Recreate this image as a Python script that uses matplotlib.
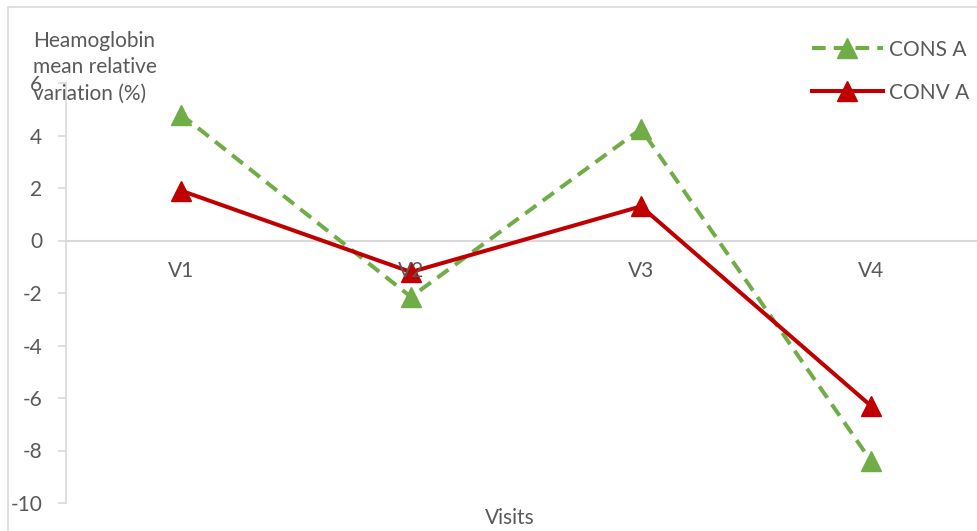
import matplotlib.pyplot as plt
from matplotlib.patches import Rectangle

visits = ["V1", "V2", "V3", "V4"]
cons_a = [4.8, -2.15, 4.25, -8.4]
conv_a = [1.9, -1.2, 1.3, -6.3]
y_ticks = [6, 4, 2, 0, -2, -4, -6, -8, -10]

plt.rcParams['font.family'] = ['Lato', 'DejaVu Sans']
grey_txt = '#595959'
axis_col = '#d9d9d9'
fs = 15

fig = plt.figure(figsize=(9.77, 5.31), dpi=100)
# chart border (cropped at right/bottom)
fig.patches.append(Rectangle((8 / 977, -0.1), 1.2, 1 - 7 / 531 + 0.1,
                             transform=fig.transFigure, fill=False,
                             edgecolor=axis_col, linewidth=1.2))

ax = fig.add_axes([66 / 977, 1 - 503 / 531, 920 / 977, 420 / 531])
x = list(range(len(visits)))

ax.plot(x, cons_a, color='#70AD47', linestyle=(0, (3.4, 2.0)), linewidth=2.9,
        marker='^', markersize=14, label='CONS A', zorder=3)
ax.plot(x, conv_a, color='#C00000', linewidth=2.9,
        marker='^', markersize=14, label='CONV A', zorder=3)

ax.set_xlim(-0.5, 3.5)
ax.set_ylim(-10, 6)
ax.set_yticks(y_ticks)
ax.set_yticklabels([str(v) for v in y_ticks])
ax.tick_params(axis='y', colors=axis_col, labelcolor=grey_txt, labelsize=fs,
               length=6, width=1.2, pad=11)

for s in ['top', 'right', 'bottom']:
    ax.spines[s].set_visible(False)
ax.spines['left'].set_color(axis_col)
ax.spines['left'].set_linewidth(1.2)
ax.axhline(0, color=axis_col, linewidth=1.5, zorder=1)

ax.set_xticks([])
for xi, lab in zip(x, visits):
    ax.text(xi, -1.15, lab, ha='center', va='center', fontsize=fs,
            color=grey_txt, zorder=5)

fig.text(510 / 977, 1 - 518 / 531, 'Visits', ha='center', va='center',
         fontsize=fs, color=grey_txt)
fig.text(33 / 977, 1 - 67 / 531, 'Heamoglobin\nmean relative\nvariation (%)',
         ha='left', va='center', fontsize=fs, color=grey_txt, linespacing=1.4)

leg = ax.legend(loc='upper right', bbox_to_anchor=(988 / 977, 1 - 21 / 531),
                bbox_transform=fig.transFigure, frameon=False, fontsize=fs,
                labelcolor=grey_txt, handlelength=3.4, labelspacing=1.1,
                handletextpad=0.3)

fig.savefig('out.png', dpi=100)
